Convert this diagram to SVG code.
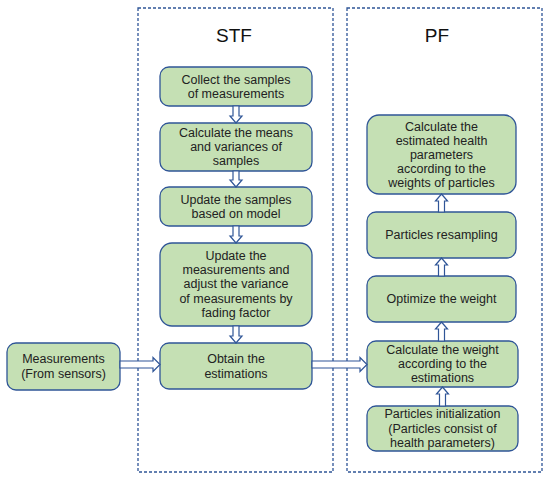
<svg xmlns="http://www.w3.org/2000/svg" width="550" height="480" viewBox="0 0 550 480">
<style>
.frame{fill:none;stroke:#2F5597;stroke-width:1.3;stroke-dasharray:3,2}
.box{fill:#C5E0B4;stroke:#2F5597;stroke-width:1.3}
.t{font-family:"Liberation Sans",Arial,sans-serif;font-size:12.5px;fill:#222;text-anchor:middle;dominant-baseline:central}
.title{font-family:"Liberation Sans",Arial,sans-serif;font-size:19px;fill:#111;text-anchor:middle;dominant-baseline:central}
.arr{fill:#fff;stroke:#2F5597;stroke-width:1.2;stroke-linejoin:miter}
</style>
<rect width="550" height="480" fill="#fff"/>
<g id="stf-frame"><rect class="frame" x="138" y="8" width="195" height="464"/><text class="title" x="234" y="35">STF</text></g>
<g id="pf-frame"><rect class="frame" x="347" y="8" width="195" height="464"/><text class="title" x="437" y="35">PF</text></g>

<g id="collect"><rect class="box" x="160" y="67" width="152" height="39" rx="9"/>
<text class="t" x="236" y="79.5">Collect the samples</text><text class="t" x="236" y="94">of measurements</text></g>
<g id="means"><rect class="box" x="160" y="123" width="152" height="48" rx="9"/>
<text class="t" x="236" y="133">Calculate the means</text><text class="t" x="236" y="147.2">and variances of</text><text class="t" x="236" y="161.4">samples</text></g>
<g id="update-samples"><rect class="box" x="160" y="187" width="152" height="39" rx="9"/>
<text class="t" x="236" y="199.5">Update the samples</text><text class="t" x="236" y="214">based on model</text></g>
<g id="update-meas"><rect class="box" x="160" y="243" width="152" height="83" rx="12"/>
<text class="t" x="236" y="256">Update the</text><text class="t" x="236" y="270.2">measurements and</text><text class="t" x="236" y="284.4">adjust the variance</text><text class="t" x="236" y="298.6">of measurements by</text><text class="t" x="236" y="312.8">fading factor</text></g>
<g id="obtain"><rect class="box" x="160" y="343" width="152" height="46" rx="9"/>
<text class="t" x="236" y="359">Obtain the</text><text class="t" x="236" y="374">estimations</text></g>

<g id="measurements"><rect class="box" x="7" y="343" width="113" height="47" rx="9"/>
<text class="t" x="63.5" y="359">Measurements</text><text class="t" x="63.5" y="374">(From sensors)</text></g>

<g id="calc-health"><rect class="box" x="367" y="115" width="149" height="79" rx="12"/>
<text class="t" x="441.5" y="126.5">Calculate the</text><text class="t" x="441.5" y="140.7">estimated health</text><text class="t" x="441.5" y="154.9">parameters</text><text class="t" x="441.5" y="169.1">according to the</text><text class="t" x="441.5" y="183.3">weights of particles</text></g>
<g id="resampling"><rect class="box" x="367" y="212" width="149" height="46" rx="9"/>
<text class="t" x="441.5" y="235">Particles resampling</text></g>
<g id="optimize"><rect class="box" x="367" y="276" width="149" height="46" rx="9"/>
<text class="t" x="441.5" y="299">Optimize the weight</text></g>
<g id="calc-weight"><rect class="box" x="367" y="341" width="151" height="46" rx="9"/>
<text class="t" x="442.5" y="349.8">Calculate the weight</text><text class="t" x="442.5" y="364">according to the</text><text class="t" x="442.5" y="378.2">estimations</text></g>
<g id="init"><rect class="box" x="367" y="406" width="151" height="45" rx="9"/>
<text class="t" x="442.5" y="414.3">Particles initialization</text><text class="t" x="442.5" y="428.5">(Particles consist of</text><text class="t" x="442.5" y="442.7">health parameters)</text></g>

<g id="connectors">
<path class="arr" d="M233,106 L233,116 L230,116 L236,123 L242,116 L239,116 L239,106 Z"/>
<path class="arr" d="M233,171 L233,180 L230,180 L236,187 L242,180 L239,180 L239,171 Z"/>
<path class="arr" d="M233,226 L233,236 L230,236 L236,243 L242,236 L239,236 L239,226 Z"/>
<path class="arr" d="M233,326 L233,336 L230,336 L236,343 L242,336 L239,336 L239,326 Z"/>
<path class="arr" d="M120,361 L153,361 L153,357.5 L160,364.5 L153,371.5 L153,368 L120,368 Z"/>
<path class="arr" d="M312,361 L360,361 L360,357.5 L367,364.5 L360,371.5 L360,368 L312,368 Z"/>
<path class="arr" d="M438.5,212 L438.5,201 L435.5,201 L441.5,194 L447.5,201 L444.5,201 L444.5,212 Z"/>
<path class="arr" d="M438.5,276 L438.5,265 L435.5,265 L441.5,258 L447.5,265 L444.5,265 L444.5,276 Z"/>
<path class="arr" d="M438.5,341 L438.5,329 L435.5,329 L441.5,322 L447.5,329 L444.5,329 L444.5,341 Z"/>
<path class="arr" d="M439.5,406 L439.5,394 L436.5,394 L442.5,387 L448.5,394 L445.5,394 L445.5,406 Z"/>
</g>
</svg>
